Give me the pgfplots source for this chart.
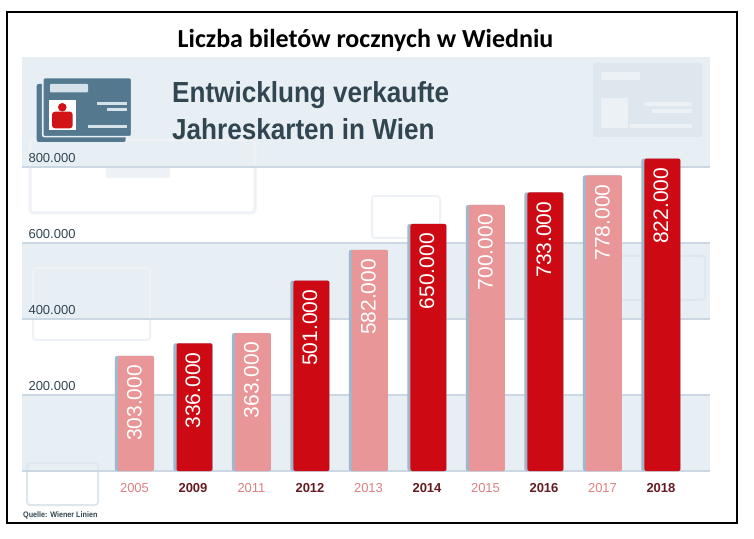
\documentclass[border=0pt]{standalone}
\usepackage{fontspec}
\setmainfont{Liberation Sans}
\newfontfamily\carlito{Carlito}
\newfontfamily\cond[FakeStretch=0.9]{Liberation Sans}
\usepackage{pgfplots}
\pgfplotsset{compat=1.18}
\definecolor{band}{RGB}{231,238,244}
\definecolor{gridc}{RGB}{203,215,226}
\definecolor{barlight}{RGB}{232,150,152}
\definecolor{bardark}{RGB}{205,10,20}
\definecolor{shadowc}{RGB}{160,184,204}
\definecolor{slate}{RGB}{50,70,82}
\definecolor{cardc}{RGB}{84,121,143}
\definecolor{cardbar}{RGB}{214,226,234}
\definecolor{personred}{RGB}{210,20,25}
\definecolor{yrlight}{RGB}{222,128,130}
\definecolor{yrdark}{RGB}{100,28,34}
\definecolor{faint}{RGB}{223,231,238}
\definecolor{faintw}{RGB}{236,241,245}
\definecolor{faintl}{RGB}{238,242,246}
\begin{document}
\begin{tikzpicture}[x=1pt,y=1pt]
\path[fill=white,use as bounding box] (0,0) rectangle (754,538);
% background bands
\fill[band] (22,67) rectangle (710,143);
\fill[band] (22,219) rectangle (710,295);
\fill[band] (22,371) rectangle (710,481);
% faint decorative cards
\fill[faint,rounded corners=3] (593,401) rectangle (702,475);
\fill[faintw,rounded corners=1] (601,458) rectangle (640,466);
\fill[faintw] (601,410) rectangle (628,440);
\fill[faintw] (644,432) rectangle (692,436);
\fill[faintw] (652,425) rectangle (692,429);
\fill[faintw] (630,410) rectangle (692,414);
\draw[faintl,line width=3,rounded corners=4] (30,325) rectangle (255,398);
\fill[faintl,rounded corners=2] (106,360) rectangle (170,372);
\draw[faint,line width=2,rounded corners=3] (27,33) rectangle (98,75);
\draw[faintl,line width=2,rounded corners=3] (33,198) rectangle (150,270);
\draw[faintl,line width=2,rounded corners=3] (372,300) rectangle (440,342);
\draw[faint,line width=2,rounded corners=3] (620,238) rectangle (705,282);
% grid lines
\foreach \yy in {67,143,219,295,371}
  \draw[gridc,line width=1.5] (22,\yy) -- (710,\yy);
% card icon
\fill[cardc,rounded corners=2] (36.7,396) rectangle (125.7,454);
\fill[cardc,draw=band,line width=1.6,rounded corners=2] (42.7,401.3) rectangle (131.7,460.3);
\fill[cardbar,rounded corners=1] (50,445.7) rectangle (88,454);
\fill[white] (49,408) rectangle (76,438);
\fill[personred] (62.3,430.7) circle (4.3);
\fill[personred,rounded corners=3] (52,409.7) rectangle (72.7,426.3);
\fill[cardbar] (96.7,433) rectangle (126.7,436.3);
\fill[cardbar] (107,427) rectangle (126.7,430);
\fill[cardbar] (88,410) rectangle (126.7,413);
% headings
\node[anchor=base,inner sep=0,font=\carlito\bfseries\fontsize{26}{26}\selectfont] at (365.5,490) {Liczba biletów rocznych w Wiedniu};
\node[anchor=base west,inner sep=0,text=slate,font=\cond\bfseries\fontsize{29}{29}\selectfont] at (172,435.3) {Entwicklung verkaufte};
\node[anchor=base west,inner sep=0,text=slate,font=\cond\bfseries\fontsize{29}{29}\selectfont] at (172,398) {Jahreskarten in Wien};
\node[anchor=west,inner sep=0,text=slate,font=\cond\bfseries\fontsize{8}{8}\selectfont] at (23,23) {Quelle: Wiener Linien};
\begin{axis}[
  at={(22pt,67pt)}, anchor=south west,
  width=688pt, height=414pt, scale only axis,
  xmin=-1.923, xmax=9.838, ymin=0, ymax=1089474,
  scaled y ticks=false,
  axis line style={draw=none}, major tick length=0pt,
  xtick={0,...,9},
  xticklabels={{\color{yrlight}2005},{\color{yrdark}\bfseries 2009},{\color{yrlight}2011},{\color{yrdark}\bfseries 2012},{\color{yrlight}2013},{\color{yrdark}\bfseries 2014},{\color{yrlight}2015},{\color{yrdark}\bfseries 2016},{\color{yrlight}2017},{\color{yrdark}\bfseries 2018}},
  xticklabel style={font=\fontsize{13}{13}\selectfont, yshift=-9pt},
  ytick={200000,400000,600000,800000},
  yticklabels={200.000,400.000,600.000,800.000},
  yticklabel style={anchor=south west, font=\fontsize{13}{13}\selectfont, text=slate, xshift=3pt, yshift=1pt},
  clip=false,
]
\addplot[ybar, bar width=0.667, bar shift=0, fill=shadowc, draw=none, rounded corners=2pt]
  coordinates {(0,303000) (1,336000) (2,363000) (3,501000) (4,582000) (5,650000) (6,700000) (7,733000) (8,778000) (9,822000)};
\addplot[ybar, bar width=0.615, bar shift=0.0256, fill=barlight, draw=none, rounded corners=2pt,
  nodes near coords, point meta=explicit symbolic,
  every node near coord/.append style={rotate=90, anchor=east, text=white, font=\fontsize{21}{21}\selectfont, inner xsep=9pt, inner ysep=0pt}]
  coordinates {(0,303000)[303.000] (2,363000)[363.000] (4,582000)[582.000] (6,700000)[700.000] (8,778000)[778.000]};
\addplot[ybar, bar width=0.615, bar shift=0.0256, fill=bardark, draw=none, rounded corners=2pt,
  nodes near coords, point meta=explicit symbolic,
  every node near coord/.append style={rotate=90, anchor=east, text=white, font=\fontsize{21}{21}\selectfont, inner xsep=9pt, inner ysep=0pt}]
  coordinates {(1,336000)[336.000] (3,501000)[501.000] (5,650000)[650.000] (7,733000)[733.000] (9,822000)[822.000]};
\end{axis}
% frame
\draw[black,line width=1.5] (7,15) rectangle (737,526);
\end{tikzpicture}
\end{document}
